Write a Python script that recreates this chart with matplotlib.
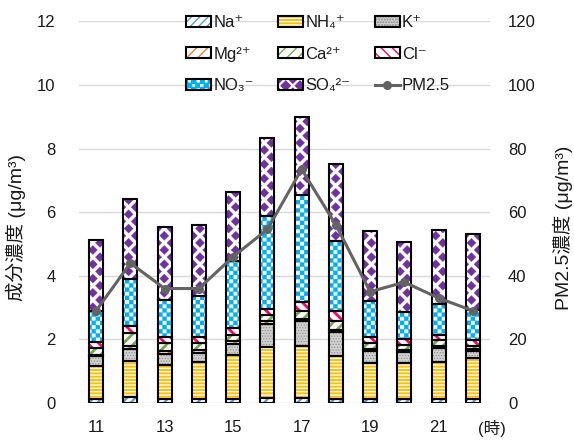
import warnings
import numpy as np
import matplotlib
matplotlib.use("Agg")
import matplotlib.pyplot as plt
from matplotlib import hatch as mhatch
from matplotlib.path import Path
from matplotlib.patches import Patch
from matplotlib.legend_handler import HandlerTuple

warnings.filterwarnings("ignore")

# ---------------------------------------------------------------- data
hours = [11, 12, 13, 14, 15, 16, 17, 18, 19, 20, 21, 22]
na   = [0.12, 0.18, 0.14, 0.13, 0.14, 0.16, 0.16, 0.14, 0.14, 0.13, 0.14, 0.14]
nh4  = [1.03, 1.13, 1.07, 1.15, 1.36, 1.60, 1.62, 1.33, 1.12, 1.13, 1.14, 1.28]
k    = [0.32, 0.39, 0.34, 0.29, 0.37, 0.74, 0.80, 0.77, 0.37, 0.33, 0.45, 0.21]
mg   = [0.05, 0.08, 0.08, 0.09, 0.07, 0.07, 0.07, 0.07, 0.07, 0.07, 0.07, 0.07]
ca   = [0.21, 0.42, 0.26, 0.23, 0.20, 0.21, 0.24, 0.26, 0.19, 0.16, 0.17, 0.10]
cl   = [0.18, 0.21, 0.19, 0.18, 0.21, 0.18, 0.29, 0.32, 0.18, 0.19, 0.18, 0.17]
no3  = [0.98, 1.49, 1.17, 1.31, 2.13, 2.92, 3.36, 2.22, 1.13, 0.84, 0.95, 0.97]
so4  = [2.25, 2.53, 2.27, 2.23, 2.17, 2.46, 2.46, 2.41, 2.20, 2.21, 2.33, 2.36]
pm25 = [29, 44, 36, 36, 46, 54.6, 73.5, 56, 35, 38, 33, 29]

labels = ["Na⁺", "NH₄⁺", "K⁺", "Mg²⁺", "Ca²⁺", "Cl⁻", "NO₃⁻", "SO₄²⁻"]
xtick_hours = [11, 13, 15, 17, 19, 21]


# ------------------------------------------------- extra fill patterns
class CheckerHatch(mhatch.HatchPatternBase):
    """Filled checkerboard squares, pattern character 'C'."""

    def __init__(self, hatch, density):
        n = hatch.count("C") * 4
        n -= n % 2
        self.n = n
        self.num_vertices = 5 * (n * n // 2) if n else 0

    def set_vertices_and_codes(self, vertices, codes):
        n = self.n
        s = 1.0 / n
        sq = np.array([[0, 0], [s, 0], [s, s], [0, s], [0, 0]], float)
        sq_codes = [Path.MOVETO, Path.LINETO, Path.LINETO, Path.LINETO,
                    Path.CLOSEPOLY]
        parts = [sq + [i * s, j * s]
                 for i in range(n) for j in range(n) if (i + j) % 2 == 0]
        vertices[:] = np.concatenate(parts)
        codes[:] = np.tile(sq_codes, len(parts))


class DiamondHatch(mhatch.HatchPatternBase):
    """Staggered filled diamonds, pattern character 'D'."""
    scale = 0.64

    def __init__(self, hatch, density):
        m = hatch.count("D")
        self.m = m
        self.num_vertices = 5 * ((m + 1) ** 2 + m * m) if m else 0

    def set_vertices_and_codes(self, vertices, codes):
        m = self.m
        p = 1.0 / m
        h = p / 2 * self.scale
        dia = np.array([[0, -h], [h, 0], [0, h], [-h, 0], [0, -h]])
        d_codes = [Path.MOVETO, Path.LINETO, Path.LINETO, Path.LINETO,
                   Path.CLOSEPOLY]
        parts = [dia + [i * p, j * p]
                 for i in range(m + 1) for j in range(m + 1)]
        parts += [dia + [(i + 0.5) * p, (j + 0.5) * p]
                  for i in range(m) for j in range(m)]
        vertices[:] = np.concatenate(parts)
        codes[:] = np.tile(d_codes, len(parts))


mhatch._hatch_types.append(CheckerHatch)
mhatch._hatch_types.append(DiamondHatch)

# ------------------------------------------------------------- styling
plt.rcParams["font.family"] = ["Liberation Sans", "Noto Sans CJK JP",
                               "DejaVu Sans"]
plt.rcParams["font.size"] = 12
TEXT = "#1a1a1a"

# face colour, hatch colour, hatch pattern, hatch line width
styles = [
    ("white",   "#5B9BD5", "////",    1.6),   # Na+
    ("#FFC000", "white",   "-----",   1.0),   # NH4+
    ("#D0D0D0", "#8C8C8C", "......",  0.5),   # K+
    ("white",   "#ED7D31", "///",     2.0),   # Mg2+
    ("white",   "#70AD47", "///",     2.0),   # Ca2+
    ("white",   "#FF0066", "\\\\\\",  2.0),   # Cl-
    ("white",   "#00B0F0", "CCCCCC",  0.2),   # NO3-
    ("white",   "#7030A0", "DDDDDDD", 0.2),   # SO4 2-
]
series = [na, nh4, k, mg, ca, cl, no3, so4]


def set_hlw(patch, lw):
    if hasattr(patch, "set_hatch_linewidth"):
        patch.set_hatch_linewidth(lw)


fig = plt.figure(figsize=(5.74, 4.41), dpi=100)
ax = fig.add_axes([79 / 574, 1 - 403 / 441, 411 / 574, 381.6 / 441])

x = np.arange(len(hours))
width = 0.41
bottom = np.zeros(len(hours))
handles = []
for lab, vals, (face, hc, hat, hlw) in zip(labels, series, styles):
    vals = np.asarray(vals, float)
    with plt.rc_context({"hatch.linewidth": hlw}):
        bars = ax.bar(x, vals, width, bottom=bottom, color=face,
                      edgecolor=hc, hatch=hat, linewidth=0, zorder=2)
        for b in bars:
            set_hlw(b, hlw)
        ax.bar(x, vals, width, bottom=bottom, fill=False,
               edgecolor="black", linewidth=1.5, zorder=3)
        hp = Patch(facecolor=face, edgecolor=hc, hatch=hat, linewidth=0)
        set_hlw(hp, hlw)
    op = Patch(fill=False, edgecolor="black", linewidth=1.5)
    handles.append((hp, op))
    bottom += vals

ax.set_xlim(-0.5, len(hours) - 0.5)
ax.set_ylim(0, 12)
ax.set_yticks(np.arange(0, 13, 2))
ax.set_xticks([hours.index(h) for h in xtick_hours])
ax.set_xticklabels([str(h) for h in xtick_hours])
ax.yaxis.grid(True, color="#D9D9D9", linewidth=1.0, zorder=0)
ax.set_axisbelow(True)
for s in ax.spines.values():
    s.set_visible(False)
ax.tick_params(axis="both", length=0, labelsize=12, colors=TEXT)
ax.tick_params(axis="y", pad=17)
ax.tick_params(axis="x", pad=12)
ax.annotate("(時)", xy=(len(hours) - 0.44, 0),
            xycoords=("data", "axes fraction"),
            xytext=(0, -12), textcoords="offset points",
            ha="center", va="top", fontsize=12, color=TEXT)
ax.set_ylabel("成分濃度 (μg/m³)", fontsize=14, color=TEXT)
ax.yaxis.set_label_coords(-0.13, 0.46)

ax2 = ax.twinx()
ax2.set_ylim(0, 120)
ax2.set_yticks(np.arange(0, 121, 20))
for s in ax2.spines.values():
    s.set_visible(False)
ax2.tick_params(axis="y", length=0, labelsize=12, colors=TEXT, pad=13)
line, = ax2.plot(x, pm25, color="#636363", linewidth=2.2, marker="o",
                 markersize=5.5, zorder=5)
ax2.set_ylabel("PM2.5濃度 (μg/m³)", fontsize=14, color=TEXT)
ax2.yaxis.set_label_coords(1.152, 0.46)

# legend laid out row by row in three columns
all_handles = handles + [line]
all_labels = labels + ["PM2.5"]
order = [0, 3, 6, 1, 4, 7, 2, 5, 8]
leg = ax2.legend([all_handles[i] for i in order],
                 [all_labels[i] for i in order], ncol=3, frameon=False,
                 loc="upper left", bbox_to_anchor=(186 / 574, 1 - 15 / 441),
                 bbox_transform=fig.transFigure, borderpad=0,
                 borderaxespad=0, handlelength=1.5, handleheight=0.65,
                 handletextpad=0.15, columnspacing=1.45, labelspacing=1.0,
                 fontsize=12, handler_map={tuple: HandlerTuple(ndivide=1)})
for t in leg.get_texts():
    t.set_color(TEXT)

fig.savefig("out.png", dpi=100)
